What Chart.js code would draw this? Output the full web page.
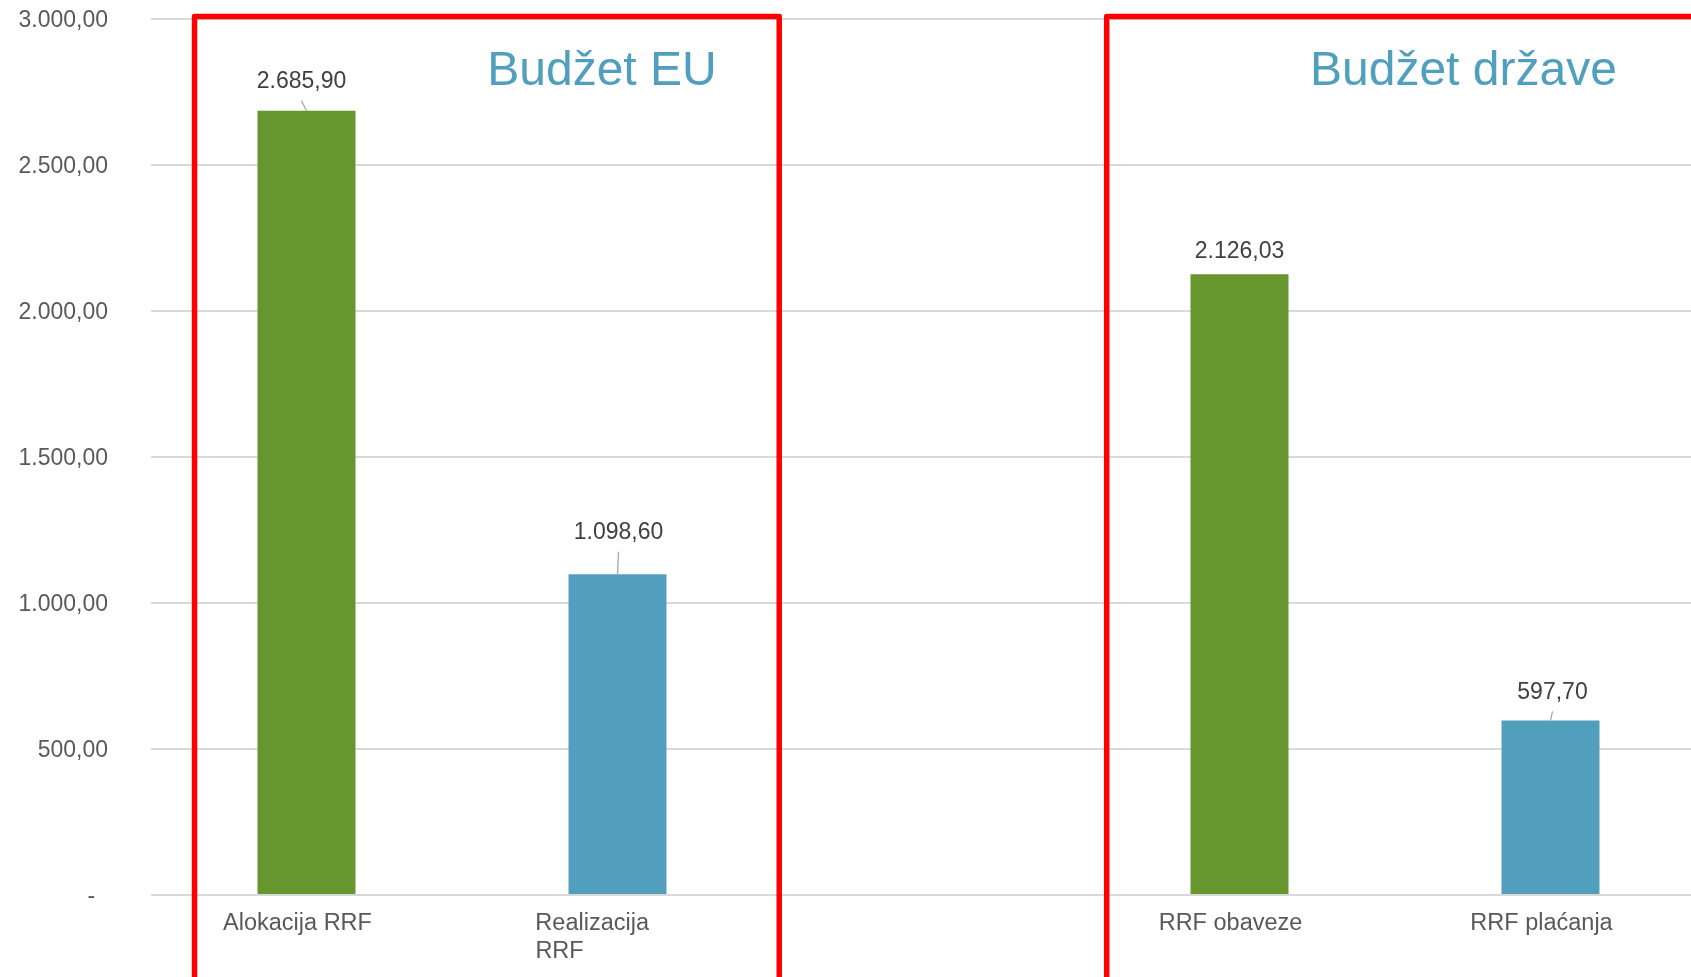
<!DOCTYPE html>
<html>
<head>
<meta charset="utf-8">
<title>RRF – Budžet EU / Budžet države</title>
<script src="https://cdn.jsdelivr.net/npm/chart.js@4"></script>
<style>
  html, body { margin: 0; padding: 0; overflow: hidden; background: #fff; }
  #wrap { width: 1706px; height: 977px; position: relative; }
</style>
</head>
<body>
<div id="wrap"><canvas id="rrfChart"></canvas></div>
<script>
// data
const categories = ['Alokacija RRF', ['Realizacija', 'RRF'], '', 'RRF obaveze', 'RRF plaćanja'];
const values = [2685.90, 1098.60, null, 2126.03, 597.70];
const barColors = ['#67952e', '#529fbd', '#529fbd', '#67952e', '#529fbd'];
const yTicks = [0, 500, 1000, 1500, 2000, 2500, 3000];
const groupTitles = ['Budžet EU', 'Budžet države'];

// where the red frames and their titles sit, in category units
const groupSpans = [[-0.36, 1.52], [2.573, 4.9]];
const groupTitleAt = [0.95, 3.72];

// value label tweaks (px)
const labelLift = [29, 41.5, 23, 23, 28];
const labelShift = [-5, 1, 0, 0, 2];

const FONT = '"Liberation Sans", Arial, sans-serif';
Chart.defaults.font.family = FONT;

function fmt(v) {
  if (v === 0) return '-  ';
  const parts = v.toFixed(2).split('.');
  return parts[0].replace(/\B(?=(\d{3})+(?!\d))/g, '.') + ',' + parts[1];
}

const barLabels = {
  id: 'barLabels',
  afterDatasetsDraw(chart) {
    const ctx = chart.ctx;
    const meta = chart.getDatasetMeta(0);
    ctx.save();
    ctx.font = '23px ' + FONT;
    ctx.fillStyle = '#404040';
    ctx.textAlign = 'center';
    ctx.textBaseline = 'middle';
    meta.data.forEach((bar, i) => {
      if (values[i] == null) return;
      const lx = bar.x + labelShift[i];
      const ly = bar.y - labelLift[i];
      ctx.fillText(fmt(values[i]), lx, ly);
      // leader line only when there is room for it
      if (bar.y - (ly + 19) > 8) {
        ctx.strokeStyle = '#a6a6a6';
        ctx.lineWidth = 1.3;
        ctx.beginPath();
        ctx.moveTo(lx, ly + 19);
        ctx.lineTo(bar.x, bar.y);
        ctx.stroke();
      }
    });
    ctx.restore();
  }
};

const groupBoxes = {
  id: 'groupBoxes',
  afterDraw(chart) {
    const { ctx, scales: { x, y } } = chart;
    ctx.save();
    ctx.strokeStyle = '#ff0000';
    ctx.lineWidth = 5.5;
    ctx.lineJoin = 'round';
    const top = y.getPixelForValue(y.max) - 2.5;
    const bottom = y.getPixelForValue(0) + 150;
    groupSpans.forEach(([a, b]) => {
      const l = x.getPixelForValue(a);
      const r = x.getPixelForValue(b);
      ctx.strokeRect(l, top, r - l, bottom - top);
    });
    ctx.fillStyle = '#509fbe';
    ctx.font = '48px ' + FONT;
    ctx.textAlign = 'center';
    ctx.textBaseline = 'alphabetic';
    groupTitles.forEach((t, i) => {
      ctx.fillText(t, x.getPixelForValue(groupTitleAt[i]), chart.chartArea.top + 66);
    });
    ctx.restore();
  }
};

new Chart(document.getElementById('rrfChart'), {
  type: 'bar',
  data: {
    labels: categories,
    datasets: [{
      data: values,
      backgroundColor: barColors,
      categoryPercentage: 1,
      barPercentage: 0.315,
    }],
  },
  options: {
    responsive: true,
    maintainAspectRatio: false,
    animation: false,
    layout: { padding: { top: 19, left: 0, right: 0, bottom: 0 } },
    plugins: {
      legend: { display: false },
      tooltip: { enabled: false },
    },
    scales: {
      x: {
        grid: { display: false },
        border: { display: false },
        ticks: {
          color: '#595959',
          font: { size: 23.5 },
          padding: 6.5,
          labelOffset: -9,
          maxRotation: 0,
          autoSkip: false,
          callback: function (value, index) {
            const label = categories[index];
            if (!Array.isArray(label)) return label;
            // wrapped label: pad lines so they read left-aligned,
            // and nudge the block left like the original
            const ctx = this.chart.ctx;
            ctx.save();
            ctx.font = '23.5px ' + FONT;
            const w = Math.max(...label.map((s) => ctx.measureText(s).width));
            const sp = ctx.measureText(' ').width;
            const out = label.map((s) => s + ' '.repeat(Math.round((w - ctx.measureText(s).width) / sp) + 5));
            ctx.restore();
            return out;
          },
        },
        afterFit(s) {
          s.height = 82;
          s.paddingLeft = 0;
          s.paddingRight = 0;
        },
      },
      y: {
        min: 0,
        max: 3000,
        grid: { color: '#d9d9d9', lineWidth: 2, drawTicks: false },
        border: { display: false },
        ticks: {
          color: '#595959',
          font: { size: 23 },
          padding: 43,
          labelOffset: 2,
          callback: (v) => fmt(v),
        },
        afterBuildTicks(s) {
          s.ticks = yTicks.map((v) => ({ value: v }));
        },
        afterFit(s) {
          s.width = 151;
          s.paddingTop = 0;
          s.paddingBottom = 0;
        },
      },
    },
  },
  plugins: [barLabels, groupBoxes],
});
</script>
</body>
</html>
